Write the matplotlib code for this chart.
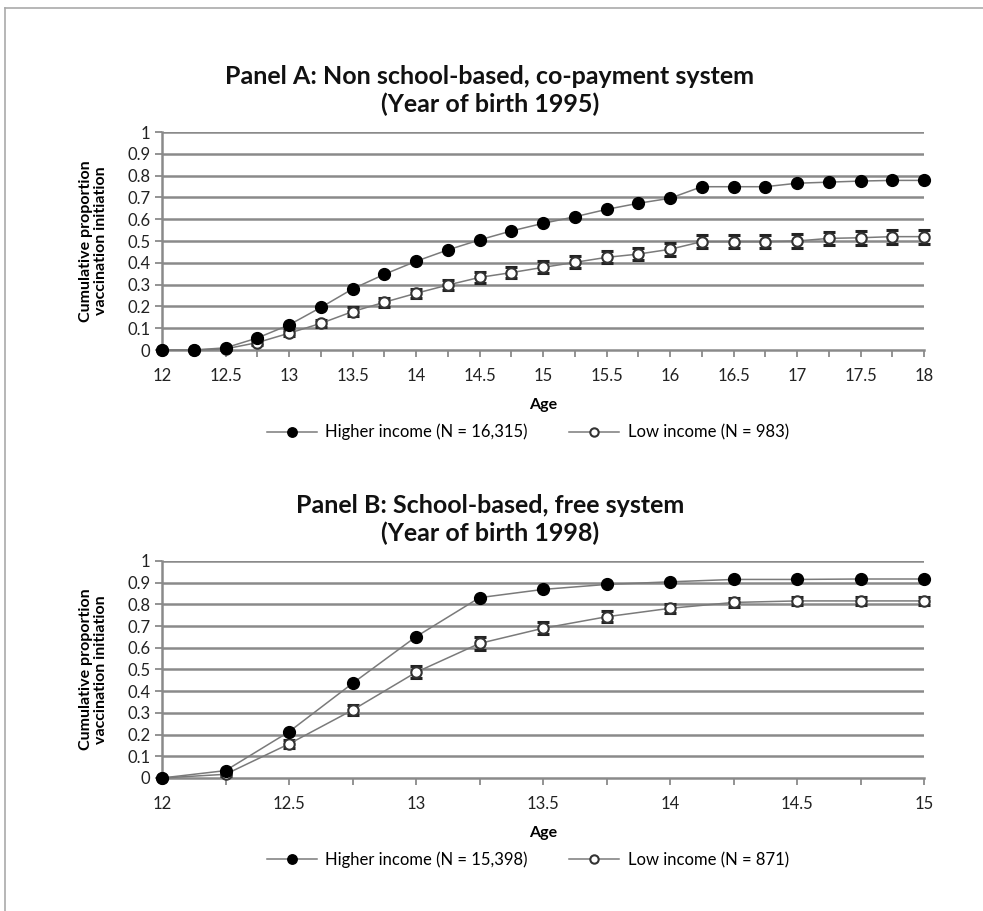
import numpy as np
import matplotlib.pyplot as plt
from matplotlib.lines import Line2D

plt.rcParams['font.family'] = ['Lato', 'DejaVu Sans']

# Panel A data (year of birth 1995)
age_a = [12, 12.25, 12.5, 12.75, 13, 13.25, 13.5, 13.75, 14, 14.25, 14.5, 14.75, 15,
         15.25, 15.5, 15.75, 16, 16.25, 16.5, 16.75, 17, 17.25, 17.5, 17.75, 18]
high_a = [0, 0, 0.01, 0.055, 0.115, 0.195, 0.28, 0.347, 0.407, 0.459, 0.505, 0.546, 0.581,
          0.611, 0.645, 0.673, 0.696, 0.749, 0.749, 0.749, 0.765, 0.77, 0.775, 0.778, 0.778]
low_a = [0, 0, 0.005, 0.034, 0.077, 0.122, 0.176, 0.219, 0.26, 0.298, 0.333, 0.355, 0.379,
         0.402, 0.425, 0.44, 0.462, 0.497, 0.497, 0.497, 0.5, 0.512, 0.515, 0.52, 0.52]
err_a = [0, 0, 0.005, 0.01, 0.015, 0.017, 0.019, 0.021, 0.022, 0.024, 0.025, 0.026, 0.027,
         0.028, 0.028, 0.029, 0.03, 0.031, 0.031, 0.031, 0.031, 0.031, 0.032, 0.032, 0.032]

# Panel B data (year of birth 1998)
age_b = [12, 12.25, 12.5, 12.75, 13, 13.25, 13.5, 13.75, 14, 14.25, 14.5, 14.75, 15]
high_b = [0, 0.034, 0.213, 0.436, 0.651, 0.831, 0.869, 0.892, 0.904, 0.915, 0.915, 0.917, 0.917]
low_b = [0, 0.017, 0.157, 0.313, 0.487, 0.62, 0.69, 0.743, 0.782, 0.809, 0.816, 0.816, 0.816]
err_b = [0, 0.008, 0.018, 0.024, 0.028, 0.028, 0.027, 0.025, 0.022, 0.02, 0.019, 0.019, 0.019]

panels = [
    dict(title='Panel A: Non school-based, co-payment system\n(Year of birth 1995)',
         age=age_a, high=high_a, low=low_a, err=err_a, xmax=18,
         n_high='16,315', n_low='983', rect=[0.1648, 0.6158, 0.7752, 0.2393]),
    dict(title='Panel B: School-based, free system\n(Year of birth 1998)',
         age=age_b, high=high_b, low=low_b, err=err_b, xmax=15,
         n_high='15,398', n_low='871', rect=[0.1648, 0.146, 0.7752, 0.2382]),
]

fig = plt.figure(figsize=(9.83, 9.11), dpi=100)
grid_c = '#8a8a8a'
line_c = '#7a7a7a'

for p in panels:
    ax = fig.add_axes(p['rect'])
    ax.set_xlim(12, p['xmax'])
    ax.set_ylim(0, 1)
    for yv in np.arange(0.1, 1.01, 0.1):
        ax.axhline(yv, color=grid_c, lw=1.8, zorder=0)

    h, = ax.plot(p['age'], p['high'], color=line_c, lw=1.1, marker='o', ms=8.5,
                 mfc='black', mec='black', zorder=4, clip_on=False)
    ax.errorbar(p['age'], p['low'], yerr=p['err'], fmt='none', ecolor='#222222',
                elinewidth=1.6, capsize=4, capthick=2.2, zorder=3, clip_on=False)
    l, = ax.plot(p['age'], p['low'], color=line_c, lw=1.1, marker='o', ms=7.5,
                 mfc='white', mec='#333333', mew=1.5, zorder=3.5, clip_on=False)

    ax.set_xticks(np.arange(12, p['xmax'] + 0.01, 0.25), minor=True)
    ax.set_xticks(np.arange(12, p['xmax'] + 0.01, 0.5))
    ax.set_xticklabels(['%g' % v for v in np.arange(12, p['xmax'] + 0.01, 0.5)])
    ax.set_yticks(np.arange(0, 1.01, 0.1))
    ax.set_yticklabels(['%g' % round(v, 1) for v in np.arange(0, 1.01, 0.1)])
    ax.tick_params(axis='x', which='both', direction='out', length=5, color=grid_c,
                   labelsize=12, labelcolor='#222222', width=1.3)
    ax.tick_params(axis='x', which='major', pad=8)
    ax.tick_params(axis='y', direction='out', length=5, color=grid_c,
                   labelsize=12, labelcolor='#222222', width=1.3)
    for s in ['top', 'right']:
        ax.spines[s].set_visible(False)
    for s in ['left', 'bottom']:
        ax.spines[s].set_color(grid_c)
        ax.spines[s].set_linewidth(1.8)

    ax.set_title(p['title'], fontsize=18, fontweight='bold', color='#111111',
                 pad=14, linespacing=1.25, x=0.43)
    ax.set_xlabel('Age', fontsize=11.5, fontweight='bold', labelpad=10)
    ax.set_ylabel('Cumulative proportion\nvaccination initiation', fontsize=11.5,
                  fontweight='bold', labelpad=14, linespacing=1.1)
    ax.legend([h, l], ['Higher income (N = %s)' % p['n_high'],
                       'Low income (N = %s)' % p['n_low']],
              loc='upper center', bbox_to_anchor=(0.48, -0.27), ncol=2,
              frameon=False, fontsize=12, handlelength=3, columnspacing=2.5,
              handletextpad=0.5, markerscale=0.8)

# thin frame lines at top and left like the original figure
fig.add_artist(Line2D([0.005, 1.0], [0.991, 0.991], transform=fig.transFigure,
                      color='#aaaaaa', lw=1.2))
fig.add_artist(Line2D([0.005, 0.005], [0.0, 0.991], transform=fig.transFigure,
                      color='#aaaaaa', lw=1.2))

fig.savefig('out.png', dpi=100)
